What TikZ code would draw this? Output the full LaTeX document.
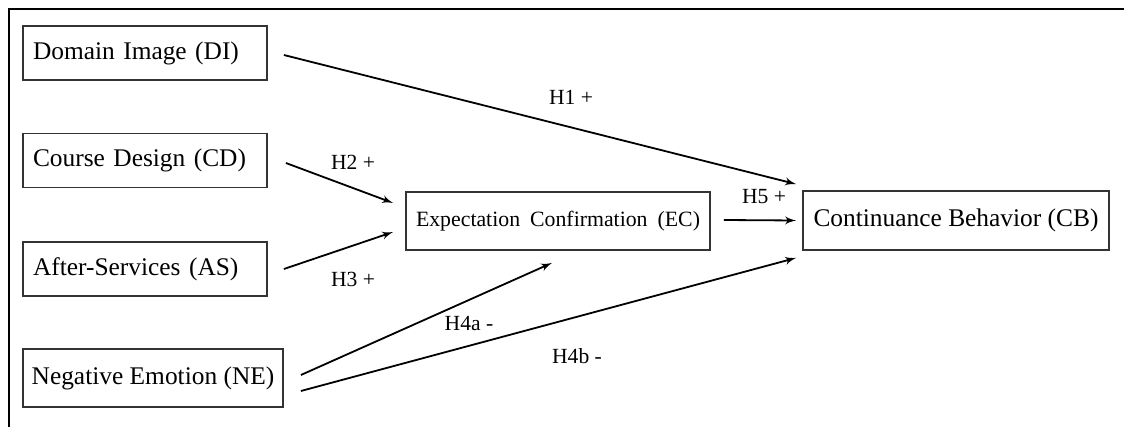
\documentclass[tikz,border=0pt]{standalone}
\usepackage{fontspec}
\setmainfont{Liberation Serif}
\usetikzlibrary{arrows,positioning}

\newcommand{\ecfont}{\fontsize{10.9}{13}\selectfont\spaceskip=5pt\relax}

\begin{document}
\begin{tikzpicture}[
	x=0.5pt, y=-0.5pt,
	>=latex',
	font=\fontsize{12.7}{15}\selectfont,
	factor/.style={
		rectangle,
		draw=black!80,
		line width=0.9pt,
		minimum width=122pt,
		minimum height=27pt,
		inner sep=0pt,
		text width=112pt,
		align=left
	},
	construct/.style={
		rectangle,
		draw=black!80,
		line width=0.9pt,
		minimum height=29pt,
		inner sep=0pt,
		align=center
	},
	hyp/.style={
		font=\fontsize{10.8}{13}\selectfont
	},
	link/.style={
		->,
		line width=0.9pt
	}
	]
	\useasboundingbox (0,0) rectangle (1124,427);
	% frame on top and left
	\draw [line width=1.3pt] (9,427) -- (9,9) -- (1124,9);
	
	% We start by placing the blocks
	\node [factor] (di) at (145,53) {Domain Image (DI)};
	\node [factor] (cd) at (145,160.5) {Course Design (CD)};
	\node [factor] (as) at (145,269) {After-Services (AS)};
	\node [construct, minimum width=130pt] (ne) at (153,378) {Negative Emotion (NE)};
	
	\node [construct, minimum width=152pt, font=\ecfont] (ec) at (558,221) {Expectation Confirmation (EC)};
	\node [construct, minimum width=153pt, minimum height=29.5pt] (cb) at (956,220.5) {Continuance Behavior (CB)};
	
	% hypotheses
	\draw [link] ([xshift=8pt,yshift=-1pt]di.east) -- ([xshift=-3pt,yshift=3pt]cb.north west);
	\draw [link] ([xshift=9pt,yshift=-1.25pt]cd.east) -- ([xshift=-6pt,yshift=9pt]ec.west);
	\draw [link] ([xshift=8pt]as.east) -- ([xshift=-6pt,yshift=-5.5pt]ec.west);
	\draw [link] ([xshift=8.5pt,yshift=1.5pt]ne.east) -- ([xshift=-3pt,yshift=-6pt]ec.south);
	\draw [link] ([xshift=8.5pt,yshift=-6.5pt]ne.east) -- ([xshift=-3pt,yshift=-3.5pt]cb.south west);
	\draw [link] ([xshift=6.5pt,yshift=0.5pt]ec.east) -- ([xshift=-3pt]cb.west);
	
	\node [hyp] (h1) at (571,97) {H1 +};
	\node [hyp] (h2) at (353,162) {H2 +};
	\node [hyp] (h3) at (353,279) {H3 +};
	\node [hyp] (h4a) at (469,323) {H4a -};
	\node [hyp] (h4b) at (577,356) {H4b -};
	\node [hyp] (h5) at (764,197) {H5 +};
	
\end{tikzpicture}
\end{document}
